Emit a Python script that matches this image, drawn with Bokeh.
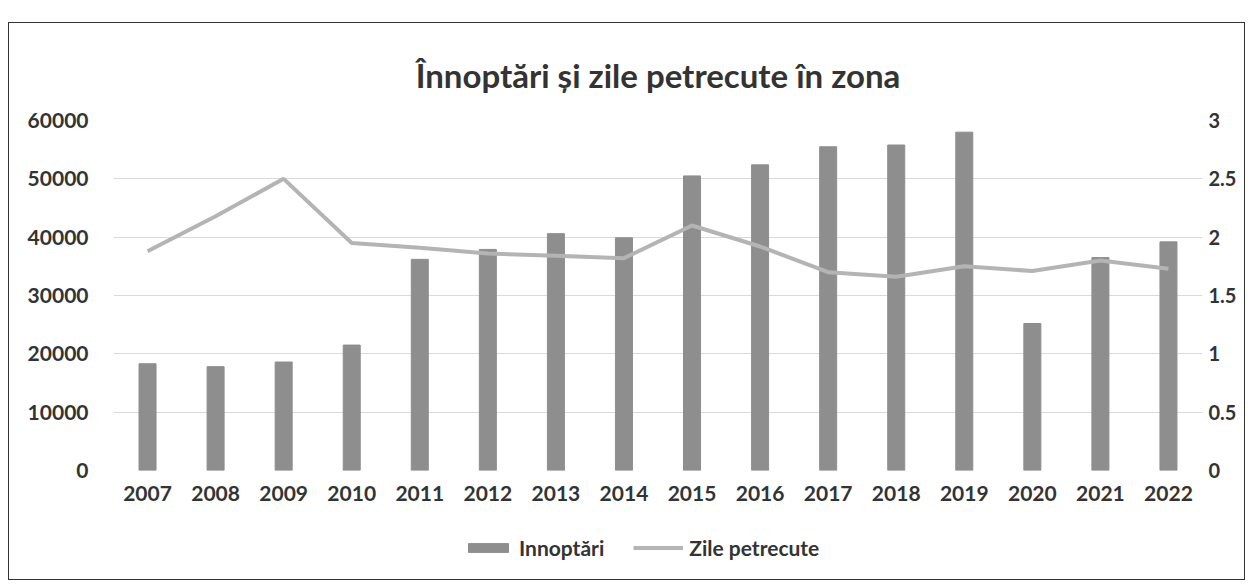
from bokeh.plotting import figure
from bokeh.layouts import column
from bokeh.models import Range1d, LinearAxis, Legend, LegendItem, ColumnDataSource, FactorRange, SingleIntervalTicker
from bokeh.embed import file_html
from bokeh.resources import INLINE

years = ["2007", "2008", "2009", "2010", "2011", "2012", "2013", "2014",
         "2015", "2016", "2017", "2018", "2019", "2020", "2021", "2022"]
innoptari = [18300, 17800, 18600, 21500, 36200, 37900, 40600, 39900,
             50500, 52400, 55500, 55800, 58000, 25200, 36500, 39200]
zile = [1.88, 2.18, 2.50, 1.95, 1.91, 1.86, 1.84, 1.82,
        2.10, 1.92, 1.70, 1.66, 1.75, 1.71, 1.80, 1.73]

FONT = "Lato"
TXT = "#333333"
BAR_C = "#8e8e8e"
LINE_C = "#b4b4b4"

src = ColumnDataSource(dict(x=years, v=innoptari, z=zile))

p = figure(x_range=FactorRange(*years), y_range=Range1d(0, 60000),
           width=1235, height=492, output_backend="svg", toolbar_location=None,
           min_border_left=104, min_border_right=42, min_border_top=97,
           min_border_bottom=45)
p.extra_y_ranges = {"right": Range1d(0, 3)}

bars = p.vbar(x="x", top="v", width=0.25, source=src, color=BAR_C)
line = p.line(x="x", y="z", source=src, y_range_name="right",
              line_color=LINE_C, line_width=4)

p.outline_line_color = None
p.xgrid.grid_line_color = None
p.ygrid.grid_line_color = "#dadada"
p.ygrid.grid_line_width = 1.2
p.yaxis.ticker = SingleIntervalTicker(interval=10000)

ax_r = LinearAxis(y_range_name="right", ticker=SingleIntervalTicker(interval=0.5))
p.add_layout(ax_r, "right")

for ax in [p.yaxis[0], ax_r, p.xaxis[0]]:
    ax.axis_line_color = None
    ax.major_tick_line_color = None
    ax.minor_tick_line_color = None
    ax.major_tick_out = 0
    ax.major_tick_in = 0
    ax.minor_tick_out = 0
    ax.minor_tick_in = 0
    ax.major_label_text_font = FONT
    ax.major_label_text_font_style = "bold"
    ax.major_label_text_font_size = "21px"
    ax.major_label_text_color = TXT
ax_r.major_label_text_font_size = "20px"
p.yaxis[0].major_label_standoff = 25
ax_r.major_label_standoff = 6
p.xaxis[0].major_label_standoff = 15

p.title.text = "Înnoptări și zile petrecute în zona"
p.title.align = "center"
p.title.text_font = FONT
p.title.text_font_style = "bold"
p.title.text_font_size = "33px"
p.title.text_color = TXT
p.title.standoff = 52

# legend strip below the chart; its renderers use the same data on a range
# that contains none of the years, so only the legend glyphs show
q = figure(width=1235, height=64, output_backend="svg", toolbar_location=None,
           x_range=FactorRange("legend"), y_range=Range1d(-2, -1),
           min_border_left=0, min_border_right=0, min_border_top=0, min_border_bottom=0)
q.axis.visible = False
q.grid.grid_line_color = None
q.outline_line_color = None
lb = q.vbar(x="x", top="v", width=0.25, source=src, color=BAR_C)
ll = q.line(x="x", y="z", source=src, line_color=LINE_C, line_width=4)
legend = Legend(items=[LegendItem(label="Innoptări", renderers=[lb]),
                       LegendItem(label="Zile petrecute", renderers=[ll])],
                orientation="horizontal", location=(350, 19),
                label_text_font=FONT, label_text_font_style="bold",
                label_text_font_size="21px", label_text_color=TXT,
                glyph_width=50, glyph_height=11, spacing=29, label_standoff=6,
                border_line_color=None, background_fill_alpha=0,
                margin=0, padding=4)
q.add_layout(legend, "center")

layout = column(p, q, spacing=0,
                styles={"border": "1px solid #333333", "margin-left": "8px", "margin-top": "22px"})
open("out.html", "w").write(file_html(layout, INLINE))
